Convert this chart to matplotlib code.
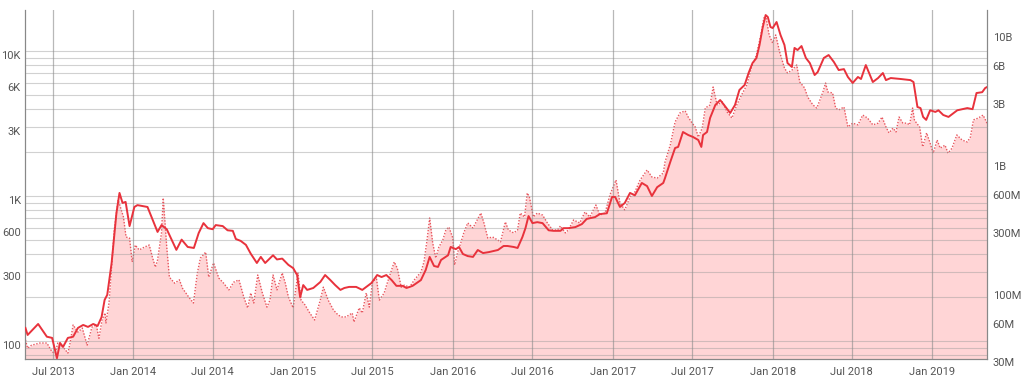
import matplotlib
matplotlib.use("Agg")
import matplotlib.pyplot as plt
import matplotlib.dates as mdates
import matplotlib.transforms as mtransforms
from matplotlib.ticker import FixedLocator, NullFormatter, NullLocator
import pandas as pd

plt.rcParams['font.family'] = ['Roboto', 'DejaVu Sans']

# Solid line: price (left axis, USD)
price_dates = [
    "2013-04-29", "2013-05-04", "2013-05-28", "2013-06-17", "2013-06-29", "2013-07-10", "2013-07-17",
    "2013-07-24", "2013-08-04", "2013-08-16", "2013-08-27", "2013-09-08", "2013-09-19", "2013-10-01",
    "2013-10-11", "2013-10-20", "2013-10-27", "2013-11-02", "2013-11-12", "2013-11-23", "2013-11-30",
    "2013-12-07", "2013-12-14", "2013-12-23", "2014-01-03", "2014-01-10", "2014-02-02", "2014-02-11",
    "2014-02-25", "2014-03-06", "2014-03-18", "2014-03-29", "2014-04-09", "2014-04-21", "2014-05-05",
    "2014-05-19", "2014-05-30", "2014-06-10", "2014-06-20", "2014-07-01", "2014-07-08", "2014-07-24",
    "2014-08-04", "2014-08-16", "2014-08-23", "2014-09-03", "2014-09-15", "2014-09-26", "2014-10-10",
    "2014-10-19", "2014-10-29", "2014-11-16", "2014-11-25", "2014-12-07", "2014-12-21", "2015-01-01",
    "2015-01-10", "2015-01-17", "2015-01-24", "2015-02-02", "2015-02-16", "2015-03-04", "2015-03-15",
    "2015-03-27", "2015-04-07", "2015-04-19", "2015-04-28", "2015-05-09", "2015-05-25", "2015-06-08",
    "2015-06-29", "2015-07-12", "2015-07-22", "2015-08-02", "2015-08-14", "2015-08-25", "2015-09-08",
    "2015-09-17", "2015-10-01", "2015-10-20", "2015-10-31", "2015-11-09", "2015-11-19", "2015-11-28",
    "2015-12-05", "2015-12-21", "2015-12-27", "2016-01-08", "2016-01-15", "2016-01-24", "2016-02-04",
    "2016-02-16", "2016-02-27", "2016-03-10", "2016-03-23", "2016-04-13", "2016-04-26", "2016-05-05",
    "2016-05-19", "2016-05-28", "2016-06-08", "2016-06-15", "2016-06-22", "2016-07-01", "2016-07-12",
    "2016-07-24", "2016-08-07", "2016-08-18", "2016-09-03", "2016-09-10", "2016-09-21", "2016-10-07",
    "2016-10-22", "2016-11-02", "2016-11-21", "2016-12-02", "2016-12-18", "2016-12-30", "2017-01-06",
    "2017-01-17", "2017-01-28", "2017-02-09", "2017-02-20", "2017-03-08", "2017-03-20", "2017-03-31",
    "2017-04-12", "2017-04-26", "2017-04-30", "2017-05-12", "2017-05-23", "2017-05-30", "2017-06-10",
    "2017-06-22", "2017-07-03", "2017-07-15", "2017-07-22", "2017-07-26", "2017-08-04", "2017-08-11",
    "2017-08-23", "2017-09-03", "2017-09-12", "2017-09-26", "2017-10-07", "2017-10-17", "2017-10-29",
    "2017-11-07", "2017-11-16", "2017-11-25", "2017-12-02", "2017-12-09", "2017-12-16", "2017-12-21",
    "2017-12-27", "2018-01-01", "2018-01-10", "2018-01-19", "2018-01-28", "2018-02-04", "2018-02-14",
    "2018-02-20", "2018-02-27", "2018-03-08", "2018-03-18", "2018-03-27", "2018-04-07", "2018-04-14",
    "2018-04-28", "2018-05-09", "2018-05-21", "2018-06-01", "2018-06-13", "2018-06-22", "2018-07-03",
    "2018-07-15", "2018-07-22", "2018-08-02", "2018-08-18", "2018-08-30", "2018-09-10", "2018-09-17",
    "2018-09-28", "2018-10-21", "2018-11-12", "2018-11-19", "2018-11-28", "2018-12-05", "2018-12-11",
    "2018-12-18", "2018-12-27", "2019-01-08", "2019-01-15", "2019-01-26", "2019-02-07", "2019-02-18",
    "2019-02-27", "2019-03-22", "2019-04-03", "2019-04-12", "2019-04-25", "2019-05-02", "2019-05-06",
]
price_values = [
    123, 110, 131, 107, 105, 76, 97,
    91, 105, 107, 123, 129, 125, 131,
    127, 146, 192, 208, 345, 763, 1050,
    895, 910, 620, 840, 865, 840, 720,
    565, 630, 590, 500, 425, 500, 445,
    438, 555, 650, 600, 590, 630, 620,
    580, 575, 505, 490, 460, 400, 345,
    380, 345, 390, 365, 370, 335, 318,
    285, 200, 243, 225, 232, 255, 285,
    263, 243, 225, 232, 236, 236, 225,
    251, 285, 276, 285, 263, 240, 240,
    232, 240, 263, 309, 380, 329, 324,
    362, 390, 445, 430, 445, 398, 385,
    380, 424, 404, 410, 424, 452, 452,
    445, 438, 521, 600, 727, 650, 660,
    650, 580, 575, 575, 600, 600, 610,
    640, 695, 715, 750, 760, 985, 985,
    840, 895, 1050, 1010, 1230, 1170, 1000,
    1150, 1230, 1330, 1716, 2143, 2180, 2763,
    2634, 2553, 2434, 2180, 2634, 2763, 3451,
    4245, 4590, 4245, 3737, 4245, 5383, 5830,
    7050, 8260, 8950, 11000, 14400, 17700, 17150,
    14650, 14400, 15850, 12900, 11000, 8260, 7760,
    10500, 10160, 10820, 8950, 8260, 6830, 7160,
    8950, 9380, 8400, 7390, 7500, 6620, 6020,
    6620, 6410, 8000, 6110, 6510, 7050, 6300,
    6510, 6410, 6300, 6110, 4110, 4040, 3510,
    3350, 3900, 3800, 3900, 3620, 3510, 3720,
    3900, 4040, 3970, 5130, 5200, 5560, 5640,
]

# Dotted line with fill: right axis, in millions of USD
volume_dates = [
    "2013-04-29", "2013-05-04", "2013-05-13", "2013-06-01", "2013-06-17", "2013-06-29", "2013-07-06",
    "2013-07-12", "2013-07-24", "2013-08-04", "2013-08-09", "2013-08-16", "2013-08-27", "2013-09-06",
    "2013-09-17", "2013-09-28", "2013-10-08", "2013-10-14", "2013-10-21", "2013-10-28", "2013-10-30",
    "2013-11-06", "2013-11-18", "2013-11-27", "2013-12-04", "2013-12-09", "2013-12-15", "2013-12-23",
    "2013-12-29", "2014-01-05", "2014-01-14", "2014-01-26", "2014-02-06", "2014-02-13", "2014-02-20",
    "2014-02-25", "2014-03-06", "2014-03-10", "2014-03-18", "2014-03-24", "2014-04-05", "2014-04-16",
    "2014-04-23", "2014-05-07", "2014-05-18", "2014-05-27", "2014-06-03", "2014-06-15", "2014-06-22",
    "2014-07-03", "2014-07-15", "2014-07-26", "2014-08-07", "2014-08-18", "2014-08-30", "2014-09-10",
    "2014-09-19", "2014-09-26", "2014-10-03", "2014-10-12", "2014-10-22", "2014-11-02", "2014-11-09",
    "2014-11-16", "2014-11-25", "2014-12-07", "2014-12-14", "2014-12-21", "2015-01-01", "2015-01-12",
    "2015-01-19", "2015-01-28", "2015-02-08", "2015-02-19", "2015-03-04", "2015-03-11", "2015-03-22",
    "2015-04-03", "2015-04-14", "2015-04-23", "2015-05-02", "2015-05-16", "2015-05-20", "2015-06-01",
    "2015-06-08", "2015-06-17", "2015-06-24", "2015-07-01", "2015-07-10", "2015-07-17", "2015-07-28",
    "2015-08-04", "2015-08-16", "2015-08-20", "2015-08-27", "2015-09-05", "2015-09-12", "2015-09-24",
    "2015-10-05", "2015-10-20", "2015-10-27", "2015-11-03", "2015-11-09", "2015-11-16", "2015-11-23",
    "2015-11-30", "2015-12-09", "2015-12-16", "2015-12-23", "2016-01-01", "2016-01-05", "2016-01-12",
    "2016-01-19", "2016-01-26", "2016-02-04", "2016-02-16", "2016-02-22", "2016-03-05", "2016-03-12",
    "2016-03-21", "2016-04-01", "2016-04-13", "2016-04-19", "2016-04-30", "2016-05-07", "2016-05-19",
    "2016-05-28", "2016-06-03", "2016-06-13", "2016-06-19", "2016-06-24", "2016-07-03", "2016-07-12",
    "2016-07-24", "2016-08-04", "2016-08-16", "2016-08-27", "2016-09-03", "2016-09-14", "2016-09-21",
    "2016-10-03", "2016-10-17", "2016-10-29", "2016-11-09", "2016-11-23", "2016-12-02", "2016-12-14",
    "2016-12-25", "2017-01-08", "2017-01-17", "2017-01-28", "2017-02-09", "2017-02-20", "2017-03-04",
    "2017-03-20", "2017-03-31", "2017-04-12", "2017-04-26", "2017-04-30", "2017-05-12", "2017-05-23",
    "2017-06-03", "2017-06-15", "2017-06-22", "2017-07-01", "2017-07-08", "2017-07-15", "2017-07-24",
    "2017-07-31", "2017-08-11", "2017-08-18", "2017-08-27", "2017-09-08", "2017-09-19", "2017-09-30",
    "2017-10-11", "2017-10-22", "2017-11-03", "2017-11-13", "2017-11-25", "2017-12-05", "2017-12-12",
    "2017-12-17", "2017-12-24", "2018-01-01", "2018-01-08", "2018-01-17", "2018-01-28", "2018-02-04",
    "2018-02-14", "2018-02-25", "2018-03-04", "2018-03-15", "2018-03-22", "2018-04-03", "2018-04-12",
    "2018-04-26", "2018-05-02", "2018-05-07", "2018-05-18", "2018-05-25", "2018-06-01", "2018-06-13",
    "2018-06-22", "2018-07-03", "2018-07-15", "2018-07-26", "2018-08-06", "2018-08-18", "2018-08-30",
    "2018-09-08", "2018-09-17", "2018-09-24", "2018-10-03", "2018-10-10", "2018-10-17", "2018-10-26",
    "2018-11-04", "2018-11-10", "2018-11-17", "2018-11-21", "2018-11-26", "2018-12-03", "2018-12-10",
    "2018-12-19", "2018-12-27", "2019-01-03", "2019-01-12", "2019-01-19", "2019-01-30", "2019-02-06",
    "2019-02-15", "2019-02-26", "2019-03-10", "2019-03-22", "2019-03-29", "2019-04-05", "2019-04-16",
    "2019-04-27", "2019-05-06",
]
volume_values = [
    41.7, 36, 38, 39.5, 39.5, 33.7, 33,
    39.5, 36.8, 33, 39.5, 54.5, 48, 51.6,
    38, 52.5, 54.5, 43, 59.6, 67.5, 56.5,
    80.7, 297, 508, 425, 375, 262, 257,
    168, 227, 208, 219, 227, 184, 153,
    174, 282, 526, 219, 128, 115, 122,
    105, 90, 80.7, 138, 180, 200, 128,
    165, 126, 115, 102, 117, 122, 90,
    73.8, 96.5, 80.7, 133, 98, 75, 85,
    133, 102, 138, 115, 90, 74, 138,
    85, 78, 67.5, 59.6, 85, 107, 85,
    71.2, 65, 62.9, 63, 67.5, 57.5, 74,
    67.5, 96.5, 75, 115, 128, 85, 96.5,
    115, 153, 168, 150, 107, 111, 107,
    122, 140, 168, 248, 368, 235, 180,
    219, 248, 297, 313, 257, 159, 200,
    235, 282, 337, 308, 337, 402, 337,
    257, 262, 248, 240, 343, 297, 282,
    297, 402, 375, 575, 535, 375, 402,
    388, 337, 297, 297, 319, 282, 297,
    355, 337, 410, 375, 464, 388, 402,
    555, 725, 481, 425, 535, 585, 725,
    867, 765, 750, 822, 1000, 1355, 2040,
    2400, 2490, 2230, 2000, 1870, 1560, 1830,
    2620, 2770, 3810, 2770, 2930, 2440, 2190,
    2770, 3310, 3950, 5350, 6750, 9650, 13100,
    13100, 9650, 8360, 9650, 7130, 5350, 4900,
    5150, 5650, 4170, 3750, 3190, 2770, 2620,
    3490, 4090, 3490, 3430, 2620, 2530, 2670,
    1870, 2000, 1940, 2310, 2190, 1940, 2000,
    2230, 1870, 1680, 1830, 1710, 2230, 2000,
    2000, 1940, 2620, 2120, 2000, 1870, 1310,
    1680, 1400, 1170, 1480, 1280, 1350, 1170,
    1280, 1620, 1480, 1430, 1560, 2120, 2190,
    2310, 2000,
]

left_ticks = [100, 300, 600, 1000, 3000, 6000, 10000]
left_labels = ["100", "300", "600", "1K", "3K", "6K", "10K"]
right_ticks = [30, 60, 100, 300, 600, 1000, 3000, 6000, 10000]
right_labels = ["30M", "60M", "100M", "300M", "600M", "1B", "3B", "6B", "10B"]
grid_levels = [80, 90, 100, 200, 300, 400, 500, 600, 700, 800, 900,
               1000, 2000, 3000, 4000, 5000, 6000, 7000, 8000, 9000, 10000]

pdates = pd.to_datetime(price_dates)
vdates = pd.to_datetime(volume_dates)

fig = plt.figure(figsize=(10.24, 3.81), dpi=100)
ax1 = fig.add_axes([25 / 1024, 1 - 359 / 381, (987 - 25) / 1024, (359 - 10) / 381])
ax2 = ax1.twinx()

solid_color = "#e8323c"
dot_color = "#e8565e"
fill_color = "#ffd5d6"

ax1.set_yscale("log")
ax2.set_yscale("log")
ax1.set_ylim(75.1, 19180)
ax2.set_ylim(29.7, 15070)
x0, x1 = pd.Timestamp("2013-04-28"), pd.Timestamp("2019-05-06")
ax1.set_xlim(x0, x1)

# Fill + dotted on right axis (behind)
ax2.fill_between(vdates, volume_values, 29.7, color=fill_color, linewidth=0, zorder=1)
ax2.plot(vdates, volume_values, color=dot_color, linestyle=(0, (1, 1.2)), linewidth=1.0, zorder=2)

# Put ax1 above ax2
ax1.set_zorder(ax2.get_zorder() + 1)
ax1.patch.set_visible(False)

# Grid lines on ax1
for lv in grid_levels:
    ax1.axhline(lv, color="#9a9a9a", linewidth=0.8, alpha=0.45, zorder=1)
ax1.xaxis.set_major_locator(mdates.MonthLocator(bymonth=[1, 7]))
ax1.xaxis.set_major_formatter(mdates.DateFormatter("%b %Y"))
ax1.grid(axis="x", color="#8a8a8a", linewidth=0.9, alpha=0.6, zorder=1)

ax1.plot(pdates, price_values, color=solid_color, linewidth=1.4, zorder=3)

ax1.yaxis.set_major_locator(FixedLocator(left_ticks))
ax1.set_yticklabels(left_labels)
ax1.yaxis.set_minor_locator(NullLocator())
ax1.yaxis.set_minor_formatter(NullFormatter())
ax2.yaxis.set_major_locator(FixedLocator(right_ticks))
ax2.set_yticklabels(right_labels)
ax2.yaxis.set_minor_locator(NullLocator())
ax2.yaxis.set_minor_formatter(NullFormatter())

for ax in (ax1, ax2):
    ax.tick_params(axis="both", length=0, labelsize=8, labelcolor="#555555")
    ax.spines["top"].set_visible(False)
    for s in ("left", "right", "bottom"):
        ax.spines[s].set_color("#888888")
        ax.spines[s].set_linewidth(0.8)
ax1.tick_params(axis="y", pad=3)
ax2.tick_params(axis="y", pad=4)
ax1.tick_params(axis="x", pad=6)

# Labels sit slightly below their grid lines, as in the reference
shift = mtransforms.ScaledTranslation(0, -4 / 100, fig.dpi_scale_trans)
for lab in ax1.get_yticklabels() + ax2.get_yticklabels():
    lab.set_transform(lab.get_transform() + shift)

fig.savefig("out.png", dpi=100)
